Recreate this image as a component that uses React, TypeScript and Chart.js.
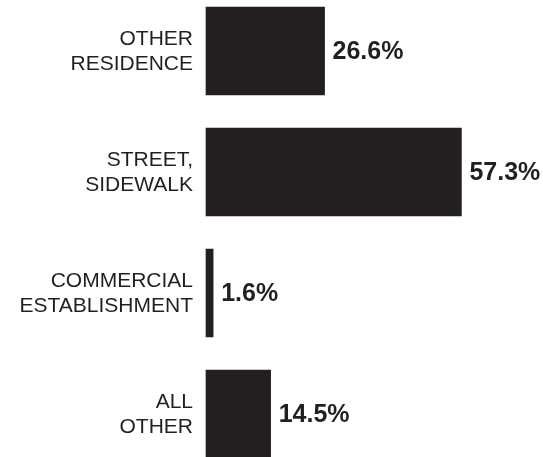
import React, { useEffect, useRef } from "react";
import { Chart, registerables } from "chart.js";

Chart.register(...registerables);

const categories: string[][] = [
  ["OTHER", "RESIDENCE"],
  ["STREET,", "SIDEWALK"],
  ["COMMERCIAL", "ESTABLISHMENT"],
  ["ALL", "OTHER"],
];
const values: number[] = [26.6, 57.3, 1.6, 14.5];
const valueLabels: string[] = ["26.6%", "57.3%", "1.6%", "14.5%"];

const INK = "#231f20";
const FONT = "'Liberation Sans', Arial, Helvetica, sans-serif";

const valueLabelPlugin = {
  id: "valueLabels",
  afterDatasetsDraw(chart: any) {
    const ctx = chart.ctx;
    const meta = chart.getDatasetMeta(0);
    ctx.save();
    ctx.font = `bold 25px ${FONT}`;
    ctx.fillStyle = INK;
    ctx.textAlign = "left";
    ctx.textBaseline = "middle";
    meta.data.forEach((bar: any, i: number) => {
      ctx.fillText(valueLabels[i], bar.x + 8, bar.y + 1);
    });
    ctx.restore();
  },
};

export default function App() {
  const ref = useRef<HTMLCanvasElement | null>(null);
  useEffect(() => {
    if (!ref.current) return;
    const chart = new Chart(ref.current, {
      type: "bar",
      data: {
        labels: categories,
        datasets: [
          {
            data: values,
            backgroundColor: INK,
            borderWidth: 0,
            barThickness: 88,
            clip: false as any,
          },
        ],
      },
      options: {
        indexAxis: "y",
        animation: false,
        responsive: false,
        maintainAspectRatio: false,
        layout: { padding: { top: 51, bottom: 43, left: 0, right: 25 } },
        plugins: {
          legend: { display: false },
          tooltip: { enabled: false },
        },
        scales: {
          x: { display: false, min: 0, max: 70 },
          y: {
            type: "category",
            offset: false,
            grid: { display: false, drawTicks: false },
            border: { display: false },
            ticks: {
              padding: 13,
              labelOffset: 1,
              color: INK,
              font: { family: FONT, size: 21, lineHeight: 1.2 },
            },
            afterFit: (scale: any) => {
              scale.width = 206;
            },
          },
        },
      },
      plugins: [valueLabelPlugin],
    });
    return () => chart.destroy();
  }, []);
  return (
    <div style={{ position: "absolute", left: 0, top: 0, width: 543, height: 457, background: "#fff" }}>
      <canvas ref={ref} width={543} height={457} style={{ width: 543, height: 457, display: "block" }} />
    </div>
  );
}
